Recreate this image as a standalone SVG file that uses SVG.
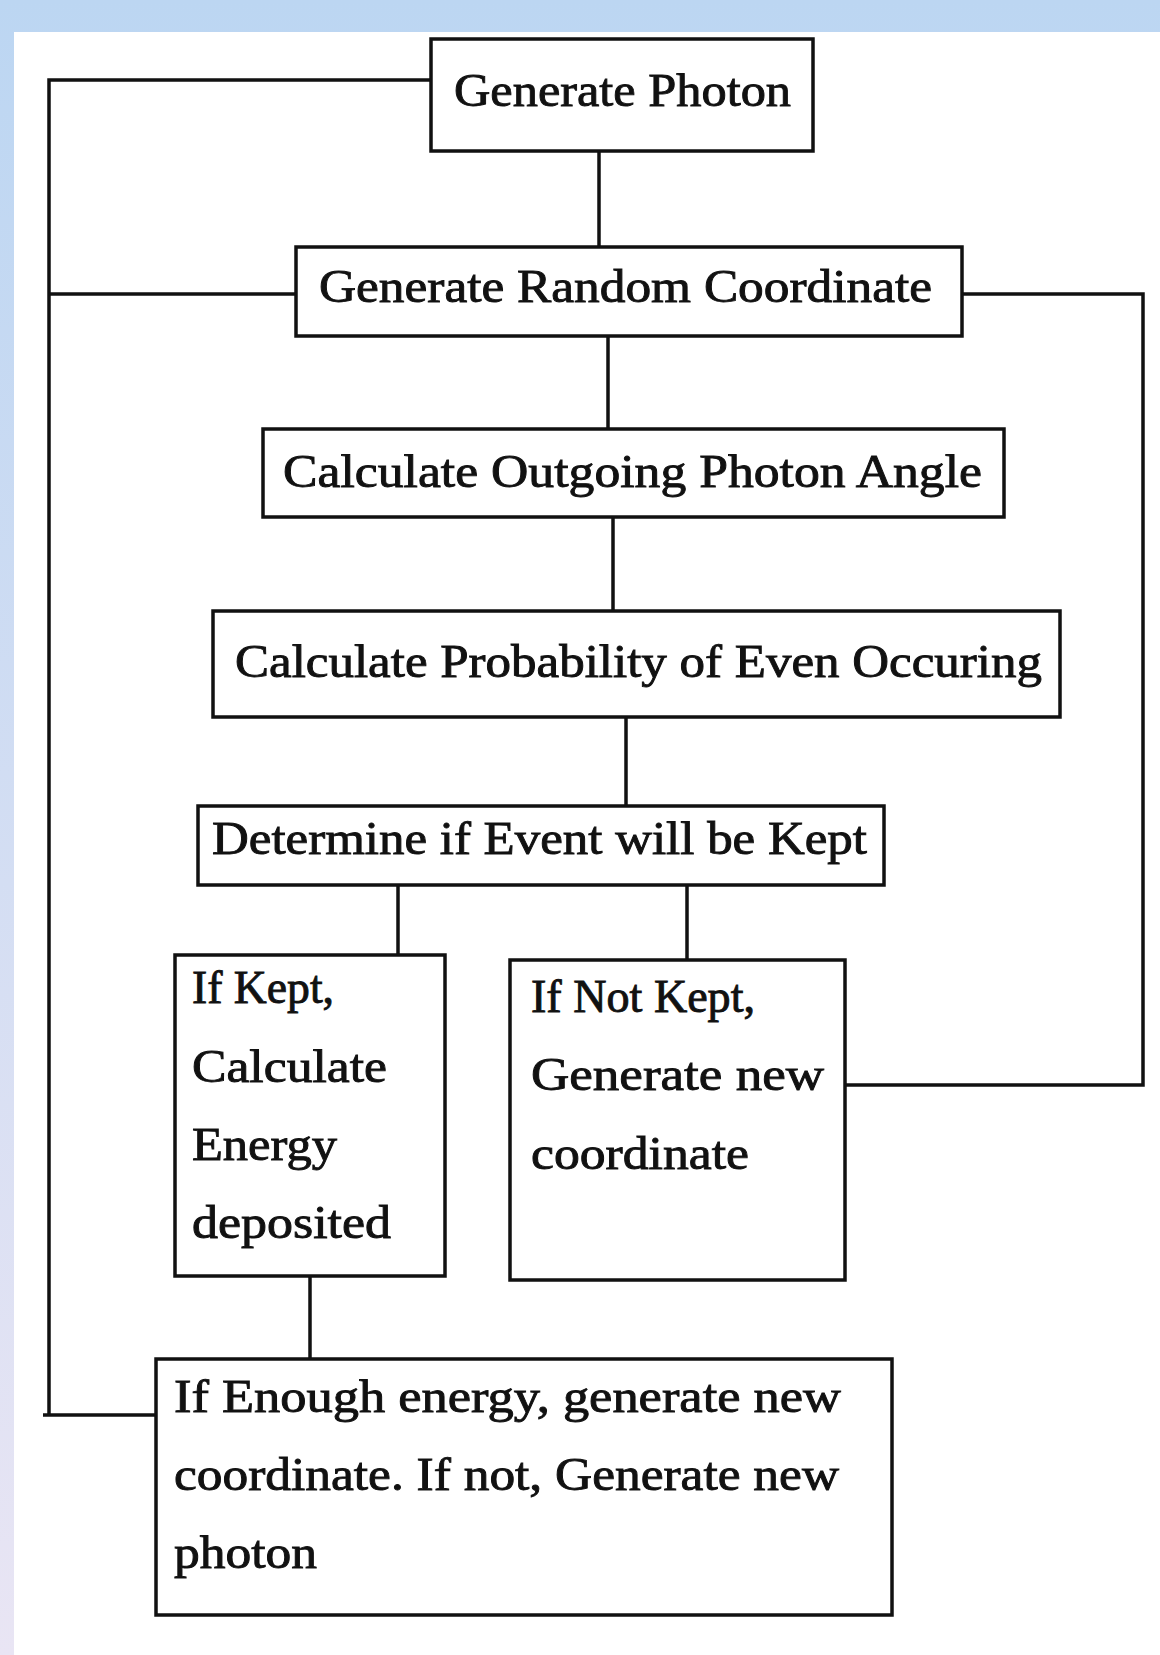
<svg xmlns="http://www.w3.org/2000/svg" width="1160" height="1655" viewBox="0 0 1160 1655">
  <defs>
    <linearGradient id="bg" x1="0" y1="0" x2="0" y2="1">
      <stop offset="0" stop-color="#BCD6F2"/>
      <stop offset="1" stop-color="#E9E5F4"/>
    </linearGradient>
  </defs>
  <style>
    .box { fill: #FFFFFF; stroke: #111111; stroke-width: 3.5; }
    .conn { fill: none; stroke: #111111; stroke-width: 3.5; }
    .lbl { font-family: "Liberation Serif", "Times New Roman", serif; font-size: 46px; fill: #111111; stroke: #111111; stroke-width: 0.9; }
  </style>
  <rect x="0" y="0" width="1160" height="1655" fill="url(#bg)"/>
  <rect x="14" y="32" width="1146" height="1623" fill="#FFFFFF"/>

  <g id="connectors">
    <path class="conn" d="M431,80 H49 V1415"/>
    <path class="conn" d="M43,1415 H156"/>
    <path class="conn" d="M49,294 H296"/>
    <path class="conn" d="M599,151 V247"/>
    <path class="conn" d="M962,294 H1143 V1085 H840"/>
    <path class="conn" d="M608,336 V429"/>
    <path class="conn" d="M613,517 V611"/>
    <path class="conn" d="M626,717 V806"/>
    <path class="conn" d="M398,885 V955"/>
    <path class="conn" d="M687,880 V960"/>
    <path class="conn" d="M310,1276 V1359"/>
  </g>

  <g id="node-generate-photon">
    <rect class="box" x="431" y="39" width="382" height="112"/>
    <text class="lbl" x="454" y="106" textLength="337" lengthAdjust="spacingAndGlyphs">Generate Photon</text>
  </g>
  <g id="node-random-coordinate">
    <rect class="box" x="296" y="247" width="666" height="89"/>
    <text class="lbl" x="319" y="302" textLength="613" lengthAdjust="spacingAndGlyphs">Generate Random Coordinate</text>
  </g>
  <g id="node-outgoing-angle">
    <rect class="box" x="263" y="429" width="741" height="88"/>
    <text class="lbl" x="283" y="487" textLength="699" lengthAdjust="spacingAndGlyphs">Calculate Outgoing Photon Angle</text>
  </g>
  <g id="node-probability">
    <rect class="box" x="213" y="611" width="847" height="106"/>
    <text class="lbl" x="235" y="677" textLength="807" lengthAdjust="spacingAndGlyphs">Calculate Probability of Even Occuring</text>
  </g>
  <g id="node-determine">
    <rect class="box" x="198" y="806" width="686" height="79"/>
    <text class="lbl" x="212" y="854" textLength="655" lengthAdjust="spacingAndGlyphs">Determine if Event will be Kept</text>
  </g>
  <g id="node-if-kept">
    <rect class="box" x="175" y="955" width="270" height="321"/>
    <text class="lbl" x="192" y="1003" textLength="142" lengthAdjust="spacingAndGlyphs">If Kept,</text>
    <text class="lbl" x="192" y="1082" textLength="195" lengthAdjust="spacingAndGlyphs">Calculate</text>
    <text class="lbl" x="192" y="1160" textLength="145" lengthAdjust="spacingAndGlyphs">Energy</text>
    <text class="lbl" x="192" y="1238" textLength="199" lengthAdjust="spacingAndGlyphs">deposited</text>
  </g>
  <g id="node-if-not-kept">
    <rect class="box" x="510" y="960" width="335" height="320"/>
    <text class="lbl" x="531" y="1012" textLength="224" lengthAdjust="spacingAndGlyphs">If Not Kept,</text>
    <text class="lbl" x="531" y="1090" textLength="293" lengthAdjust="spacingAndGlyphs">Generate new</text>
    <text class="lbl" x="531" y="1169" textLength="218" lengthAdjust="spacingAndGlyphs">coordinate</text>
  </g>
  <g id="node-enough-energy">
    <rect class="box" x="156" y="1359" width="736" height="256"/>
    <text class="lbl" x="174" y="1412" textLength="667" lengthAdjust="spacingAndGlyphs">If Enough energy, generate new</text>
    <text class="lbl" x="174" y="1490" textLength="665" lengthAdjust="spacingAndGlyphs">coordinate. If not, Generate new</text>
    <text class="lbl" x="174" y="1568" textLength="143" lengthAdjust="spacingAndGlyphs">photon</text>
  </g>
</svg>
